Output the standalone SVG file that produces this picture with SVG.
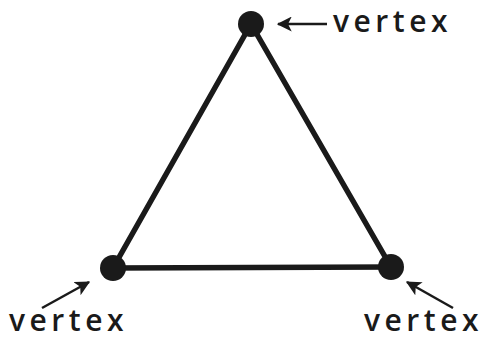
<svg xmlns="http://www.w3.org/2000/svg" width="482" height="339" viewBox="0 0 482 339">
<style>
.edge{stroke:#1a1a1a;stroke-width:5.5;stroke-linecap:round;fill:none}
.ptr{stroke:#1a1a1a;stroke-width:2.5;fill:none}
.v{fill:#1a1a1a}
.lbl{font-family:"Open Sans","Liberation Sans",Arial,sans-serif;font-weight:600;font-size:30px;letter-spacing:4.5px;fill:#1a1a1a}
</style>
<defs>
<marker id="ah" viewBox="0 0 12 12" refX="11" refY="6" markerWidth="6" markerHeight="6" markerUnits="strokeWidth" orient="auto">
<path d="M0,0 L12,6 L0,12 L3,6 Z" fill="#1a1a1a"/>
</marker>
</defs>
<g id="connectors">
<line class="edge" x1="251" y1="24" x2="113" y2="268"/>
<line class="edge" x1="251" y1="24" x2="391" y2="267"/>
<line class="edge" x1="113" y1="268" x2="391" y2="267"/>
<line class="ptr" x1="327" y1="24" x2="278" y2="24" marker-end="url(#ah)"/>
<line class="ptr" x1="42" y1="308" x2="89" y2="282" marker-end="url(#ah)"/>
<line class="ptr" x1="453" y1="308" x2="407" y2="282" marker-end="url(#ah)"/>
</g>
<g id="vertex-top"><circle class="v" cx="251" cy="24" r="13"/></g>
<g id="vertex-left"><circle class="v" cx="113" cy="268" r="13"/></g>
<g id="vertex-right"><circle class="v" cx="391" cy="267" r="13"/></g>
<g id="label-top"><text class="lbl" x="333" y="32">vertex</text></g>
<g id="label-left"><text class="lbl" x="9" y="331">vertex</text></g>
<g id="label-right"><text class="lbl" x="364" y="331">vertex</text></g>
</svg>
